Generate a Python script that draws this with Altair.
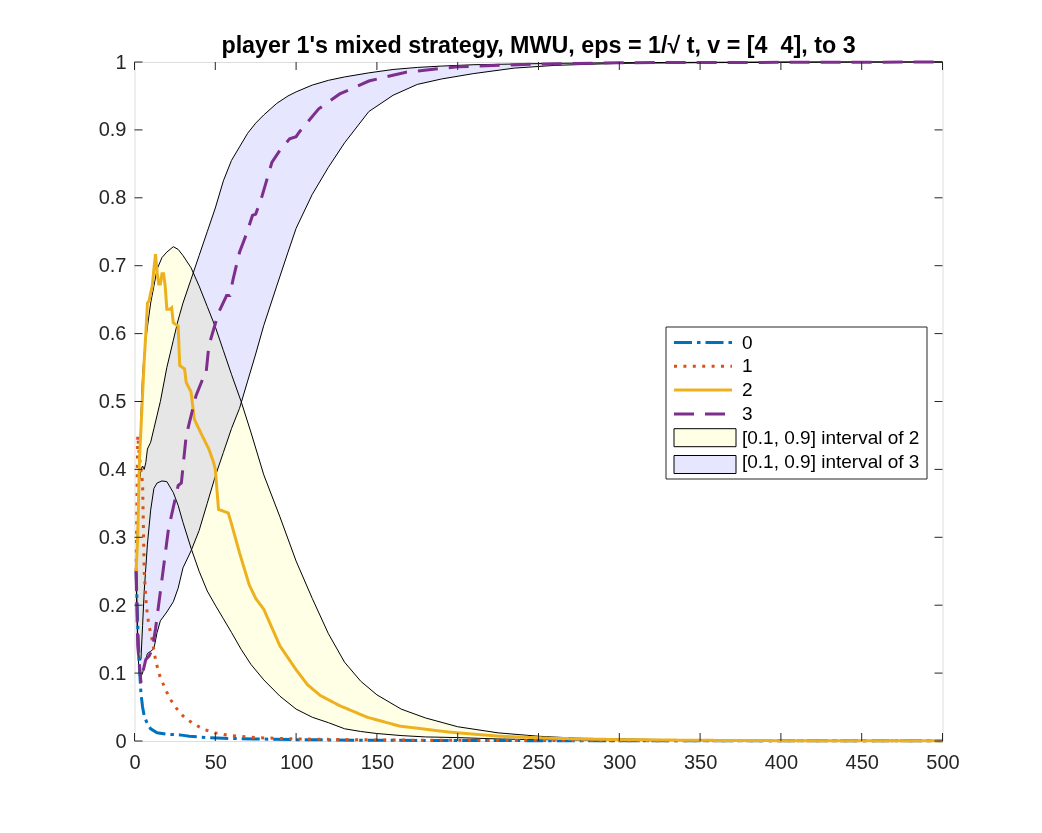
import altair as alt
import pandas as pd

FONT = "Liberation Sans"
AX = "#262626"

# ---------------- data ----------------
# mean probability of each pure strategy over time t
t0 = [1, 2, 3, 4, 5, 6, 8, 10, 14, 20, 28, 34, 45, 55, 75, 100, 150, 250, 500]
p0 = [0.25, 0.17, 0.11, 0.07, 0.05, 0.037, 0.025, 0.018, 0.012, 0.01, 0.009, 0.007,
      0.005, 0.004, 0.003, 0.002, 0.001, 0.0005, 0.0002]

t1 = [1, 2, 3, 4, 5, 6, 7, 8, 9, 11, 13, 15, 17, 20, 22, 26, 30, 36, 43, 50, 59, 75,
      100, 150, 200, 300, 500]
p1 = [0.25, 0.45, 0.42, 0.40, 0.38, 0.25, 0.21, 0.185, 0.17, 0.148, 0.12, 0.10, 0.088,
      0.072, 0.062, 0.048, 0.037, 0.026, 0.017, 0.012, 0.008, 0.005, 0.003, 0.0015,
      0.001, 0.0005, 0.0002]

t2 = [1, 2, 3, 4, 5, 6, 7, 8, 9, 10, 11, 12, 13, 14, 15, 16, 17, 18, 19, 20, 22, 23,
      24, 27, 28, 31, 32, 35, 37, 41, 46, 49, 50, 52, 58, 60, 65, 71, 75, 80, 90, 100,
      107, 115, 127, 144, 164, 195, 226, 258, 300, 350, 400, 500]
p2 = [0.25, 0.30, 0.41, 0.46, 0.51, 0.56, 0.60, 0.645, 0.648, 0.66, 0.67, 0.695, 0.717,
      0.69, 0.673, 0.673, 0.688, 0.688, 0.67, 0.636, 0.636, 0.638, 0.616, 0.611, 0.553,
      0.548, 0.528, 0.514, 0.474, 0.454, 0.43, 0.41, 0.40, 0.341, 0.336, 0.32, 0.277,
      0.23, 0.21, 0.194, 0.14, 0.105, 0.083, 0.067, 0.052, 0.035, 0.022, 0.013, 0.007,
      0.004, 0.002, 0.001, 0.0005, 0.0002]

t3 = [1, 2, 4, 5, 7, 9, 11, 13, 17, 21, 27, 29, 32, 38, 42, 44, 46, 52, 57, 59, 61, 65,
      69, 73, 75, 79, 85, 90, 96, 100, 102, 114, 127, 145, 168, 200, 250, 300, 500]
p3 = [0.25, 0.14, 0.086, 0.10, 0.12, 0.125, 0.135, 0.165, 0.238, 0.312, 0.376, 0.38,
      0.45, 0.508, 0.532, 0.535, 0.582, 0.631, 0.656, 0.656, 0.68, 0.72, 0.745, 0.774,
      0.776, 0.803, 0.852, 0.87, 0.887, 0.89, 0.897, 0.931, 0.953, 0.972, 0.985, 0.993,
      0.997, 0.999, 1.0]

# [0.1, 0.9] interval of strategy 2
tb2 = [1, 2, 3, 4, 5, 6, 8, 10, 12, 14, 17, 20, 24, 27, 30, 35, 40, 45, 50, 55, 60, 66,
       72, 80, 90, 100, 110, 120, 130, 140, 150, 165, 180, 200, 225, 250, 275, 300, 350,
       400, 450, 500]
hi2 = [0.25, 0.30, 0.40, 0.48, 0.54, 0.57, 0.61, 0.645, 0.67, 0.695, 0.712, 0.72, 0.728,
       0.724, 0.715, 0.697, 0.67, 0.64, 0.61, 0.575, 0.54, 0.50, 0.455, 0.392, 0.33,
       0.265, 0.21, 0.158, 0.116, 0.088, 0.068, 0.047, 0.034, 0.021, 0.012, 0.007,
       0.004, 0.003, 0.0015, 0.0008, 0.0004, 0.0002]
lo2 = [0.25, 0.15, 0.12, 0.12, 0.17, 0.22, 0.29, 0.34, 0.372, 0.38, 0.383, 0.382, 0.366,
       0.347, 0.322, 0.284, 0.25, 0.221, 0.20, 0.18, 0.16, 0.135, 0.113, 0.09, 0.066,
       0.047, 0.035, 0.027, 0.018, 0.014, 0.011, 0.008, 0.006, 0.005, 0.003, 0.002,
       0.0015, 0.001, 0.0005, 0.0003, 0.0002, 0.0001]

# [0.1, 0.9] interval of strategy 3
tb3 = [1, 2, 3, 4, 5, 6, 7, 8, 10, 12, 14, 16, 20, 24, 27, 30, 35, 40, 45, 50, 55, 60,
       65, 70, 75, 80, 88, 95, 100, 110, 120, 130, 145, 160, 175, 190, 210, 235, 260,
       300, 350, 400, 450, 500]
hi3 = [0.25, 0.33, 0.38, 0.40, 0.405, 0.40, 0.41, 0.43, 0.44, 0.46, 0.48, 0.50, 0.55,
       0.59, 0.62, 0.645, 0.68, 0.715, 0.75, 0.785, 0.825, 0.855, 0.875, 0.895, 0.91,
       0.922, 0.939, 0.95, 0.956, 0.966, 0.973, 0.978, 0.984, 0.989, 0.992, 0.994,
       0.996, 0.997, 0.998, 0.999, 0.9995, 1.0, 1.0, 1.0]
lo3 = [0.25, 0.13, 0.10, 0.095, 0.10, 0.11, 0.12, 0.129, 0.132, 0.136, 0.16, 0.177,
       0.19, 0.205, 0.225, 0.255, 0.28, 0.31, 0.35, 0.39, 0.425, 0.46, 0.49, 0.53, 0.57,
       0.612, 0.67, 0.72, 0.755, 0.805, 0.845, 0.881, 0.927, 0.951, 0.967, 0.975,
       0.983, 0.991, 0.995, 0.998, 0.999, 0.9995, 1.0, 1.0]

series_names = ["0", "1", "2", "3"]
band_names = ["[0.1, 0.9] interval of 2", "[0.1, 0.9] interval of 3"]
x_ticks = [0, 50, 100, 150, 200, 250, 300, 350, 400, 450, 500]
y_ticks = [0, 0.1, 0.2, 0.3, 0.4, 0.5, 0.6, 0.7, 0.8, 0.9, 1]
title_text = "player 1's mixed strategy, MWU, eps = 1/\u221a t, v = [4\u00a0 4], to 3"

# ---------------- tables ----------------
lines_df = pd.concat([
    pd.DataFrame({"t": t, "v": p, "series": n})
    for t, p, n in [(t0, p0, "0"), (t1, p1, "1"), (t2, p2, "2"), (t3, p3, "3")]
], ignore_index=True)
bands_df = pd.concat([
    pd.DataFrame({"t": tb2, "lo": lo2, "hi": hi2, "band": band_names[0]}),
    pd.DataFrame({"t": tb3, "lo": lo3, "hi": hi3, "band": band_names[1]}),
], ignore_index=True)
xt_df = pd.DataFrame({"t": x_ticks})
yt_df = pd.DataFrame({"v": y_ticks})

# ---------------- styling ----------------
W, H = 808, 679
line_colors = ["#0072BD", "#D95319", "#EDB120", "#7E2F8E"]
line_dashes = [[18, 5, 3.5, 5], [3, 6.4], [1, 0], [20, 11]]
band_fills = ["#FFFFE6", "#E6E6FF"]

xs = alt.Scale(domain=[0, 500], nice=False, zero=False)
ys = alt.Scale(domain=[0, 1], nice=False, zero=False)
axis_common = dict(domain=False, ticks=False, tickSize=0, grid=False,
                   labelFontSize=20, labelFont=FONT, labelColor=AX,
                   labelFlush=False, labelOverlap=False, title=None)
xaxis = alt.Axis(values=x_ticks, labelPadding=11, format="d", **axis_common)
yaxis = alt.Axis(values=y_ticks, labelPadding=8.5, format="~r", **axis_common)


def X(field="t"):
    return alt.X(f"{field}:Q", scale=xs, axis=xaxis, title=None)


def Y(field="v"):
    return alt.Y(f"{field}:Q", scale=ys, axis=yaxis, title=None)


LEG_X, LEG_Y, PAD, ROWPAD, LFS = 531, 264.5, 6.5, 3.8, 19
ROW_STEP = 23.8
leg_lines = alt.Legend(
    title=None, orient="none", legendX=LEG_X, legendY=LEG_Y,
    symbolType="M-1,0L6.733,0", symbolSize=225, symbolStrokeWidth=3,
    labelFontSize=LFS, labelFont=FONT, labelColor="black", labelOffset=51,
    labelLimit=400, rowPadding=ROWPAD, padding=PAD, strokeColor=AX,
)
leg_bands = alt.Legend(
    title=None, orient="none", legendX=LEG_X, legendY=LEG_Y + 4 * ROW_STEP,
    symbolType="M-1,-1.2L7.267,-1.2L7.267,1.2L-1,1.2Z", symbolSize=225,
    symbolStrokeWidth=1, symbolStrokeColor="black", symbolOpacity=1,
    labelFontSize=LFS, labelFont=FONT, labelExpr="' '", labelOffset=51,
    rowPadding=ROWPAD, padding=PAD,
)

legend_domain = series_names + band_names

areas = alt.Chart(bands_df).mark_area(
    blend="multiply", stroke="black", strokeWidth=1, opacity=1, interpolate="linear"
).encode(
    x=X(), y=Y("lo"), y2="hi:Q",
    fill=alt.Fill("band:N", scale=alt.Scale(domain=band_names, range=band_fills),
                  legend=leg_bands),
)

lines = alt.Chart(lines_df).mark_line(strokeWidth=3, strokeCap="butt").encode(
    x=X(), y=Y("v"),
    stroke=alt.Stroke("series:N",
                      scale=alt.Scale(domain=legend_domain,
                                      range=line_colors + ["transparent", "transparent"]),
                      legend=leg_lines),
    strokeDash=alt.StrokeDash("series:N",
                              scale=alt.Scale(domain=legend_domain,
                                              range=line_dashes + [[1, 0], [1, 0]]),
                              legend=leg_lines),
)

TL = 8
tick_b = alt.Chart(xt_df).mark_rule(color=AX, strokeWidth=1).encode(
    x=X(), y=alt.value(H), y2=alt.value(H - TL))
tick_t = alt.Chart(xt_df).mark_rule(color=AX, strokeWidth=1).encode(
    x=X(), y=alt.value(0), y2=alt.value(TL))
tick_l = alt.Chart(yt_df).mark_rule(color=AX, strokeWidth=1).encode(
    y=Y(), x=alt.value(0), x2=alt.value(TL))
tick_r = alt.Chart(yt_df).mark_rule(color=AX, strokeWidth=1).encode(
    y=Y(), x=alt.value(W), x2=alt.value(W - TL))

chart = alt.layer(areas, lines, tick_b, tick_t, tick_l, tick_r).properties(
    width=W, height=H,
    title=alt.TitleParams(text=title_text, fontSize=23.3, font=FONT, fontWeight="bold",
                          color="black", anchor="middle", frame="group",
                          baseline="alphabetic", offset=9, dy=33),
    autosize=alt.AutoSizeParams(type="none"),
    padding={"left": 126.5, "top": 54, "right": 80, "bottom": 70},
).configure_view(stroke=AX, strokeWidth=1).configure(background="white")

chart.save("out.html", embed_options={"renderer": "svg", "actions": False})
